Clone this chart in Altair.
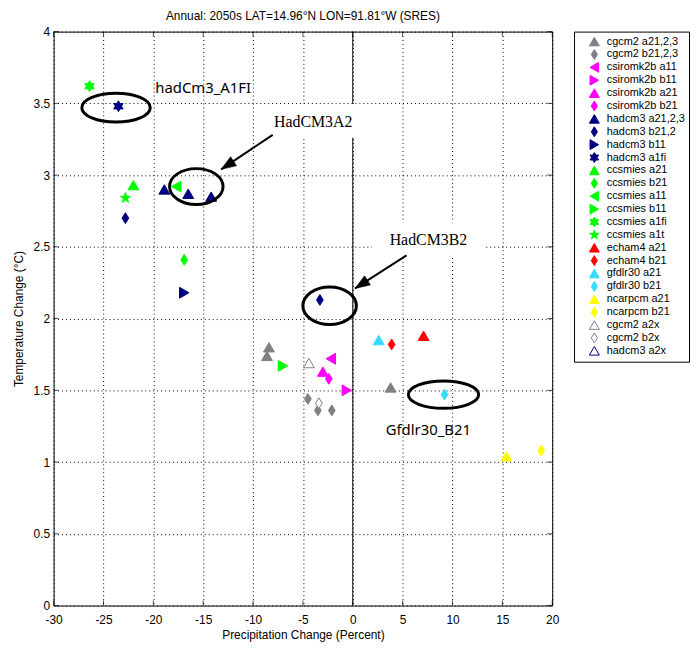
import altair as alt
import pandas as pd

# ---------------- data ----------------
TRI_UP = "triangle-up"
TRI_L = "triangle-left"
TRI_R = "triangle-right"
DIAMOND = "M0,-1L0.62,0L0,1L-0.62,0Z"
HEXA = ("M0,-1L0.289,-0.5L0.866,-0.5L0.577,0L0.866,0.5L0.289,0.5L0,1L-0.289,0.5"
        "L-0.866,0.5L-0.577,0L-0.866,-0.5L-0.289,-0.5Z")
PENTA = ("M0,-1L0.225,-0.309L0.951,-0.309L0.363,0.118L0.588,0.809L0,0.382"
         "L-0.588,0.809L-0.363,0.118L-0.951,-0.309L-0.225,-0.309Z")

GRAY, MAG, NAVY, GRN = "#808080", "#ff00ff", "#000080", "#00ff00"
RED, CYAN, YEL = "#ff0000", "#33ddff", "#ffff00"

series_labels = [
    "cgcm2 a21,2,3", "cgcm2 b21,2,3", "csiromk2b a11", "csiromk2b b11",
    "csiromk2b a21", "csiromk2b b21", "hadcm3 a21,2,3", "hadcm3 b21,2",
    "hadcm3 b11", "hadcm3 a1fi", "ccsmies a21", "ccsmies b21", "ccsmies a11",
    "ccsmies b11", "ccsmies a1fi", "ccsmies a1t", "echam4 a21", "echam4 b21",
    "gfdlr30 a21", "gfdlr30 b21", "ncarpcm a21", "ncarpcm b21",
    "cgcm2 a2x", "cgcm2 b2x", "hadcm3 a2x",
]
series_stroke = [
    GRAY, GRAY, MAG, MAG, MAG, MAG, NAVY, NAVY, NAVY, NAVY,
    GRN, GRN, GRN, GRN, GRN, GRN, RED, RED, CYAN, CYAN, YEL, YEL,
    GRAY, GRAY, NAVY,
]
series_fill = series_stroke[:22] + ["white", "white", "white"]
series_shapes = [
    TRI_UP, DIAMOND, TRI_L, TRI_R, TRI_UP, DIAMOND, TRI_UP, DIAMOND, TRI_R, HEXA,
    TRI_UP, DIAMOND, TRI_L, TRI_R, HEXA, PENTA, TRI_UP, DIAMOND, TRI_UP, DIAMOND,
    TRI_UP, DIAMOND, TRI_UP, DIAMOND, TRI_UP,
]

pt_label = [
    "cgcm2 a21,2,3", "cgcm2 a21,2,3", "cgcm2 a21,2,3",
    "cgcm2 b21,2,3", "cgcm2 b21,2,3", "cgcm2 b21,2,3",
    "csiromk2b a11", "csiromk2b b11", "csiromk2b a21", "csiromk2b b21",
    "hadcm3 a21,2,3", "hadcm3 a21,2,3", "hadcm3 a21,2,3",
    "hadcm3 b21,2", "hadcm3 b21,2", "hadcm3 b11", "hadcm3 a1fi",
    "ccsmies a21", "ccsmies b21", "ccsmies a11", "ccsmies b11",
    "ccsmies a1fi", "ccsmies a1t",
    "echam4 a21", "echam4 b21", "gfdlr30 a21", "gfdlr30 b21",
    "ncarpcm a21", "ncarpcm b21", "cgcm2 a2x", "cgcm2 b2x",
]
pt_x = [-8.4, -8.6, 3.8, -4.5, -3.5, -2.1, -2.2, -0.6, -3.0, -2.4,
        -18.9, -16.5, -14.2, -22.8, -3.3, -16.9, -23.5,
        -22.0, -16.9, -17.7, -7.0, -26.4, -22.8,
        7.1, 3.9, 2.6, 9.2, 15.4, 18.9, -4.4, -3.4]
pt_y = [1.80, 1.74, 1.52, 1.44, 1.36, 1.36, 1.72, 1.50, 1.63, 1.58,
        2.90, 2.87, 2.85, 2.70, 2.13, 2.18, 3.48,
        2.93, 2.41, 2.92, 1.67, 3.62, 2.84,
        1.88, 1.82, 1.85, 1.47, 1.04, 1.08, 1.69, 1.41]

x_ticks = [-30, -25, -20, -15, -10, -5, 0, 5, 10, 15, 20]
y_ticks = [0, 0.5, 1, 1.5, 2, 2.5, 3, 3.5, 4]
zero_x = [0]

# annotations
sans_text = ["hadCm3_A1FI", "Gfdlr30_B21"]
sans_x = [-19.8, 3.3]
sans_y = [3.61, 1.22]
serif_text = ["HadCM3A2", "HadCM3B2"]
serif_x = [-7.9, 3.7]
serif_y = [3.37, 2.55]

box_x = [-8.5, 1.9]
box_x2 = [0.7, 13.3]
box_y = [3.26, 2.44]
box_y2 = [3.495, 2.67]

ell_x = [-23.74, -15.69, -2.32, 9.1]
ell_y = [3.47, 2.92, 2.09, 1.47]
ell_w = [69, 54, 54, 71]
ell_ratio = [0.42, 0.67, 0.70, 0.39]

arr_x = [-8.03, 5.39]
arr_y = [3.28, 2.44]
arr_x2 = [-13.2, 0.23]
arr_y2 = [3.04, 2.21]
arr_angle = [237, 237]

# ---------------- frames ----------------
pts = pd.DataFrame({"label": pt_label, "x": pt_x, "y": pt_y})
xt = pd.DataFrame({"x": x_ticks, "lo": y_ticks[0], "hi": y_ticks[-1]})
yt = pd.DataFrame({"y": y_ticks, "lo": x_ticks[0], "hi": x_ticks[-1]})
zdf = pd.DataFrame({"x": zero_x})
sans_df = pd.DataFrame({"t": sans_text, "x": sans_x, "y": sans_y})
serif_df = pd.DataFrame({"t": serif_text, "x": serif_x, "y": serif_y})
box_df = pd.DataFrame({"x": box_x, "x2": box_x2, "y": box_y, "y2": box_y2})
ell_df = pd.DataFrame({
    "x": ell_x, "y": ell_y,
    "size": [w * w for w in ell_w],
    "shape": [f"M-1,0A1,{r} 0 1,0 1,0A1,{r} 0 1,0 -1,0Z" for r in ell_ratio],
})
arr_df = pd.DataFrame({"x": arr_x, "y": arr_y, "x2": arr_x2, "y2": arr_y2,
                       "angle": arr_angle})

xs = alt.Scale(domain=[-30, 20], nice=False, zero=False)
ys = alt.Scale(domain=[0, 4], nice=False, zero=False)
FONT = "Liberation Sans"

xaxis = alt.Axis(values=x_ticks, title="Precipitation Change (Percent)",
                 labelExpr="toString(datum.value)", ticks=False, domain=False,
                 grid=True, gridColor="#000", gridDash=[1, 3], gridWidth=1,
                 labelFont=FONT, labelFontSize=12, labelColor="#000",
                 labelPadding=9, titleFont=FONT, titleFontSize=12,
                 titleFontWeight="normal", titleColor="#000", titlePadding=4,
                 labelFlush=False)
yaxis = alt.Axis(values=y_ticks, title="Temperature Change (°C)", format="~g",
                 ticks=False, domain=False,
                 grid=True, gridColor="#000", gridDash=[1, 3], gridWidth=1,
                 labelFont=FONT, labelFontSize=12, labelColor="#000",
                 labelPadding=4, titleFont=FONT, titleFontSize=12,
                 titleFontWeight="normal", titleColor="#000", titlePadding=8,
                 labelFlush=False)


def X(f):
    return alt.X(f, scale=xs, axis=xaxis)


def Y(f):
    return alt.Y(f, scale=ys, axis=yaxis)


leg = alt.Legend(title=None, orient="none", legendX=525, legendY=0,
                 padding=4, strokeColor="#000", fillColor="white",
                 symbolOffset=11, labelOffset=7, labelFont=FONT,
                 labelFontSize=11, labelColor="#000", rowPadding=0,
                 clipHeight=12.1, symbolSize=100, symbolStrokeWidth=1,
                 symbolOpacity=1)

points = alt.Chart(pts).mark_point(size=120, opacity=1, strokeWidth=1).encode(
    x=X("x:Q"), y=Y("y:Q"),
    fill=alt.Fill("label:N", scale=alt.Scale(domain=series_labels, range=series_fill), legend=leg),
    stroke=alt.Stroke("label:N", scale=alt.Scale(domain=series_labels, range=series_stroke), legend=leg),
    shape=alt.Shape("label:N", scale=alt.Scale(domain=series_labels, range=series_shapes), legend=leg),
)

zero_line = alt.Chart(zdf).mark_rule(color="black", strokeWidth=1).encode(
    x=X("x:Q"))

boxes = alt.Chart(box_df).mark_rect(fill="white").encode(
    x=X("x:Q"), x2="x2", y=Y("y:Q"), y2="y2")

tk = dict(color="black", thickness=1, size=5)
tick_b = alt.Chart(xt).mark_tick(orient="vertical", yOffset=-2.5, **tk).encode(
    x=X("x:Q"), y=Y("lo:Q"))
tick_t = alt.Chart(xt).mark_tick(orient="vertical", yOffset=2.5, **tk).encode(
    x=X("x:Q"), y=Y("hi:Q"))
tick_l = alt.Chart(yt).mark_tick(orient="horizontal", xOffset=2.5, **tk).encode(
    y=Y("y:Q"), x=X("lo:Q"))
tick_r = alt.Chart(yt).mark_tick(orient="horizontal", xOffset=-2.5, **tk).encode(
    y=Y("y:Q"), x=X("hi:Q"))

ellipses = alt.Chart(ell_df).mark_point(filled=False, stroke="black",
                                         strokeWidth=3, opacity=1).encode(
    x=X("x:Q"), y=Y("y:Q"),
    size=alt.Size("size:Q", scale=None, legend=None),
    shape=alt.Shape("shape:N", scale=None, legend=None),
)

arrow_lines = alt.Chart(arr_df).mark_rule(color="black", strokeWidth=2).encode(
    x=X("x:Q"), x2="x2", y=Y("y:Q"), y2="y2")

arrow_heads = alt.Chart(arr_df).mark_point(
    filled=True, fill="black", stroke="black", strokeWidth=0.5, opacity=1,
    shape="M0,0L-0.55,1.5L0.55,1.5Z", size=400).encode(
    x=X("x2:Q"), y=Y("y2:Q"),
    angle=alt.Angle("angle:Q", scale=None),
)

sans_labels = alt.Chart(sans_df).mark_text(
    align="left", baseline="middle", font="Noto Sans", fontSize=15,
    color="black").encode(x=X("x:Q"), y=Y("y:Q"), text="t:N")
serif_labels = alt.Chart(serif_df).mark_text(
    align="left", baseline="middle", font="Liberation Serif", fontSize=16,
    color="black").encode(x=X("x:Q"), y=Y("y:Q"), text="t:N")

chart = alt.layer(
    zero_line, boxes, tick_b, tick_t, tick_l, tick_r, points,
    ellipses, arrow_lines, arrow_heads, sans_labels, serif_labels,
).properties(
    width=503, height=579,
    autosize=alt.AutoSizeParams(type="none"),
    padding={"left": 46, "top": 21, "right": 139, "bottom": 38},
    title=alt.TitleParams("Annual: 2050s LAT=14.96°N LON=91.81°W (SRES)",
                          font=FONT, fontSize=12, fontWeight="normal",
                          color="#000", anchor="middle", offset=3),
    background="white",
).configure_view(stroke="black", strokeWidth=1)

chart.save("out.html", embed_options={"renderer": "svg", "actions": False})
